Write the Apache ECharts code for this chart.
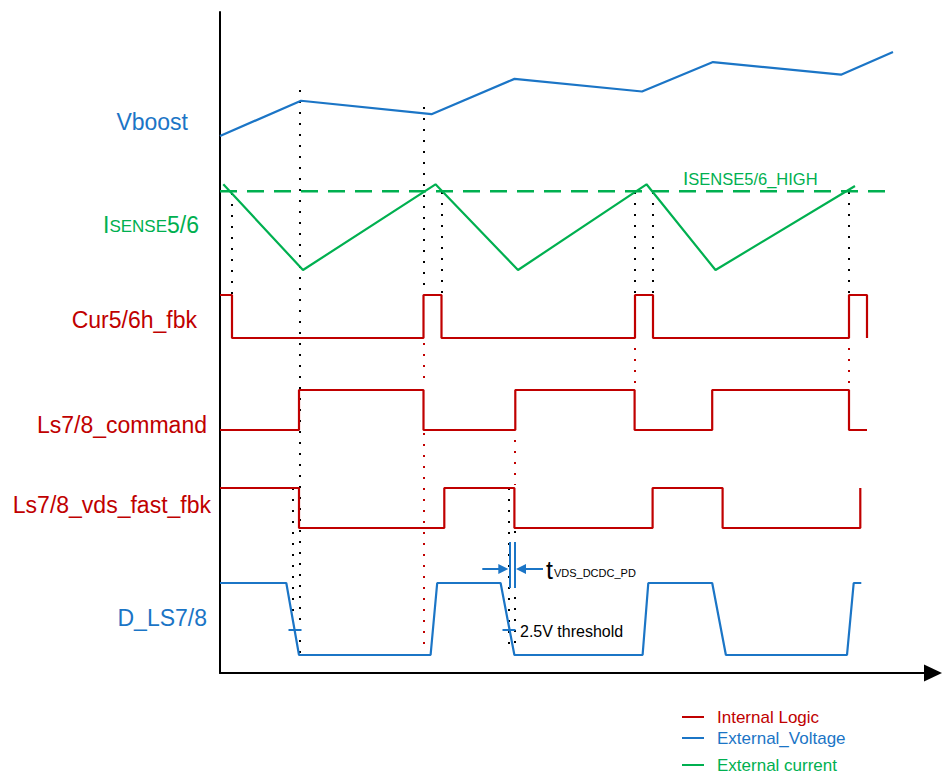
<!DOCTYPE html>
<html><head><meta charset="utf-8">
<script src="https://cdn.jsdelivr.net/npm/echarts@6/dist/echarts.min.js"></script>
<style>html,body{margin:0;padding:0;background:#fff}#c{width:942px;height:774px}</style>
</head><body><div id="c"></div>
<script>
// ---------------- data (time units along the x axis, logical levels 0..1) ----------------
const vboostT = [0, 81, 211.5, 294.5, 422, 493, 621, 673];
const vboostV = [0, 0.42, 0.26, 0.68, 0.53, 0.88, 0.73, 1.0];

const isenseT = [3.3, 83, 215.5, 298, 426.5, 495.5, 635];
const isenseV = [1, 0, 1, 0, 1, 0, 0.98];
const isenseHighLevel = 0.92;
const isenseHighT = [0, 670];

const curStart = 1;
const curEdges = [12, 203.5, 221.5, 415, 433, 629, 647];
const curEnd = 647;

const cmdStart = 0;
const cmdEdges = [79, 203.5, 295.3, 414.6, 492.2, 629];
const cmdEnd = 647;

const vdsStart = 1;
const vdsEdges = [79, 224.3, 294.4, 432.6, 502.6, 640.3];
const vdsEnd = 640.3;

const dlsT = [0, 66.3, 79, 210.6, 217.2, 280.6, 294.4, 422.6, 428.3, 492.2, 505.9, 627, 633.7, 641.3];
const dlsV = [1, 1, 0, 0, 1, 1, 0, 0, 1, 1, 0, 0, 1, 1];
const dlsThresholdLevel = 0.35;
const dlsThresholdT = [75, 289];

const tvdsT = [289.3, 295];

const blackGuideT = [80, 12, 203.5, 221.5, 415, 433, 629, 73, 289, 295];
const redGuideT = [203.5, 203.5, 415, 629, 295];

const rowLabels = ['Vboost', 'ISENSE5/6', 'Cur5/6h_fbk', 'Ls7/8_command', 'Ls7/8_vds_fast_fbk', 'D_LS7/8'];
const legendNames = ['Internal Logic', 'External_Voltage', 'External current'];

// ---------------- layout / styles ----------------
const COL = { red: '#C00000', blue: '#1B75C6', green: '#00B050', black: '#000000' };
const Y0PX = 673; // pixel row of the time axis
const rowLayout = {
  vboost: { base: 136, amp: 84 },
  isense: { base: 270, amp: 85.7 },
  cur: { base: 338, amp: 43 },
  cmd: { base: 430, amp: 40 },
  vds: { base: 528, amp: 40 },
  dls: { base: 655, amp: 72 }
};
const blackGuideSpan = [[90,655],[193,295],[107,293],[192,293],[192,293],[192,293],[192,293],[488,628],[488,650],[531,650]];
const redGuideSpan = [[343,387],[433,650],[348,385],[348,385],[440,485]];
const tickHalf = 6.5;
const tvdsSpan = [542, 588];
const tvdsArrowY = 569;

function yv(px) { return Y0PX - px; }
function lv(row, level) { return yv(rowLayout[row].base - level * rowLayout[row].amp); }
function analog(row, T, V) { return T.map((t, i) => [t, lv(row, V[i])]); }
function steps(row, start, edges, end) {
  let lvl = start;
  const pts = [[0, lv(row, lvl)]];
  edges.forEach(e => { pts.push([e, lv(row, lvl)]); lvl = 1 - lvl; pts.push([e, lv(row, lvl)]); });
  if (end > edges[edges.length - 1]) pts.push([end, lv(row, lvl)]);
  return pts;
}
function lineSeries(name, data, color, extra) {
  return Object.assign({
    type: 'line', name: name, data: data, symbol: 'none', showSymbol: false,
    lineStyle: { color: color, width: 2.2 }, itemStyle: { color: color },
    silent: true, animation: false, z: 3, emphasis: { disabled: true }
  }, extra || {});
}
function guideSeries(T, spans, color) {
  return {
    type: 'lines', coordinateSystem: 'cartesian2d', silent: true, animation: false, z: 2,
    lineStyle: { color: color, width: 2, type: [2, 9], opacity: 1, curveness: 0 },
    data: T.map((t, i) => ({ coords: [[t, yv(spans[i][0])], [t, yv(spans[i][1])]] }))
  };
}

const series = [
  lineSeries(legendNames[1], analog('vboost', vboostT, vboostV), COL.blue),
  lineSeries(legendNames[2], analog('isense', isenseT, isenseV), COL.green),
  lineSeries('__isenseHigh', isenseHighT.map(t => [t, lv('isense', isenseHighLevel)]), COL.green,
    { lineStyle: { color: COL.green, width: 2.5, type: [17, 10] }, z: 2 }),
  lineSeries(legendNames[0], steps('cur', curStart, curEdges, curEnd), COL.red),
  lineSeries(legendNames[0], steps('cmd', cmdStart, cmdEdges, cmdEnd), COL.red),
  lineSeries(legendNames[0], steps('vds', vdsStart, vdsEdges, vdsEnd), COL.red),
  lineSeries(legendNames[1], analog('dls', dlsT, dlsV), COL.blue),
  guideSeries(blackGuideT, blackGuideSpan, COL.black),
  guideSeries(redGuideT, redGuideSpan, COL.red),
  { // 2.5V threshold ticks
    type: 'lines', coordinateSystem: 'cartesian2d', silent: true, animation: false, z: 4,
    lineStyle: { color: COL.blue, width: 2, opacity: 1 },
    data: dlsThresholdT.map(t => ({ coords: [[t - tickHalf, lv('dls', dlsThresholdLevel)], [t + tickHalf, lv('dls', dlsThresholdLevel)]] }))
  },
  { // tVDS_DCDC_PD markers
    type: 'lines', coordinateSystem: 'cartesian2d', silent: true, animation: false, z: 4,
    lineStyle: { color: COL.blue, width: 2, opacity: 1 },
    data: tvdsT.map(t => ({ coords: [[t, yv(tvdsSpan[0])], [t, yv(tvdsSpan[1])]] }))
  },
  { // tVDS arrows
    type: 'lines', coordinateSystem: 'cartesian2d', silent: true, animation: false, z: 4,
    symbol: ['none', 'triangle'], symbolSize: [11, 10],
    lineStyle: { color: COL.blue, width: 2, opacity: 1 },
    data: [
      { coords: [[tvdsT[0] - 27, yv(tvdsArrowY)], [tvdsT[0] - 6, yv(tvdsArrowY)]] },
      { coords: [[tvdsT[1] + 28, yv(tvdsArrowY)], [tvdsT[1] + 6, yv(tvdsArrowY)]] }
    ]
  }
];

const labelFont = '"Liberation Sans", Arial, sans-serif';
function label(text, right, y, color, extra) {
  return Object.assign({
    type: 'text', x: right, y: y, silent: true,
    style: { text: text, fill: color, font: '23px ' + labelFont, align: 'right', verticalAlign: 'middle' }
  }, extra || {});
}

const graphic = [
  label(rowLabels[0], 188, 122, COL.blue),
  {
    type: 'text', x: 199, y: 236, silent: true,
    style: {
      text: '{a|I}{b|SENSE}{a|5/6}', align: 'right', verticalAlign: 'bottom', fill: COL.green,
      rich: {
        a: { fontSize: 23, fontFamily: labelFont, fill: COL.green, verticalAlign: 'bottom', lineHeight: 24 },
        b: { fontSize: 17, fontFamily: labelFont, fill: COL.green, verticalAlign: 'bottom', lineHeight: 24, padding: [0, 0, 1, 0] }
      }
    }
  },
  label(rowLabels[2], 197, 320, COL.red),
  label(rowLabels[3], 207, 425, COL.red),
  label(rowLabels[4], 211, 505, COL.red),
  label(rowLabels[5], 207, 618, COL.blue),
  {
    type: 'text', x: 683, y: 188, silent: true,
    style: {
      text: '{a|I}{b|SENSE5/6_HIGH}', align: 'left', verticalAlign: 'bottom', fill: COL.green,
      rich: {
        a: { fontSize: 19, fontFamily: labelFont, fill: COL.green, verticalAlign: 'bottom', lineHeight: 20 },
        b: { fontSize: 16.5, fontFamily: labelFont, fill: COL.green, verticalAlign: 'bottom', lineHeight: 20, padding: [0, 0, 0.5, 0] }
      }
    }
  },
  {
    type: 'text', x: 520, y: 631, silent: true,
    style: { text: '2.5V threshold', fill: '#000', font: '16px "Liberation Sans Narrow", "Liberation Sans", sans-serif', align: 'left', verticalAlign: 'middle' }
  },
  {
    type: 'text', x: 546, y: 582, silent: true,
    style: {
      text: '{t|t}{s|VDS_DCDC_PD}', align: 'left', verticalAlign: 'bottom', fill: '#000',
      rich: {
        t: { fontSize: 25, fontFamily: '"Liberation Sans Narrow", "Liberation Sans", sans-serif', fill: '#000', verticalAlign: 'bottom', lineHeight: 28 },
        s: { fontSize: 11, fontFamily: labelFont, fill: '#000', verticalAlign: 'bottom', lineHeight: 28, padding: [0, 0, 4, 1] }
      }
    }
  }
];

function legendAt(name, color, top) {
  return {
    data: [{ name: name, icon: 'rect' }], left: 682, top: top, padding: 0,
    itemWidth: 22, itemHeight: 2, selectedMode: false,
    textStyle: { color: color, fontSize: 17, fontFamily: labelFont, lineHeight: 18, padding: [0, 0, 0, 8] }
  };
}

const option = {
  backgroundColor: '#ffffff',
  animation: false,
  grid: { left: 220, right: 9, top: 12, bottom: 101, containLabel: false },
  xAxis: {
    type: 'value', min: 0, max: 713,
    axisLine: { show: true, onZero: true, lineStyle: { color: '#000', width: 2 }, symbol: ['none', 'triangle'], symbolSize: [17, 18] },
    axisTick: { show: false }, axisLabel: { show: false }, splitLine: { show: false }
  },
  yAxis: {
    type: 'value', min: 0, max: 661,
    axisLine: { show: true, lineStyle: { color: '#000', width: 2 } },
    axisTick: { show: false }, axisLabel: { show: false }, splitLine: { show: false }
  },
  legend: [
    legendAt(legendNames[0], COL.red, 708),
    legendAt(legendNames[1], COL.blue, 729),
    legendAt(legendNames[2], COL.green, 756)
  ],
  graphic: graphic,
  series: series
};

const chart = echarts.init(document.getElementById('c'), null, { renderer: 'svg' });
chart.setOption(option);
</script>
</body></html>
